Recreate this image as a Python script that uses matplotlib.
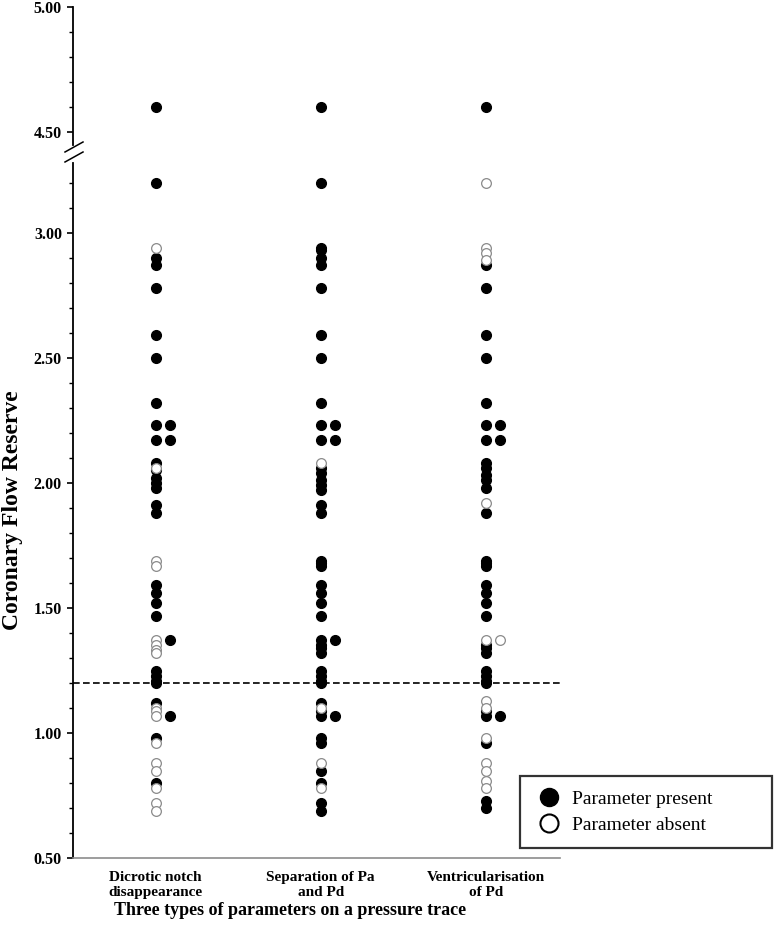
import matplotlib
matplotlib.use("Agg")
import matplotlib.pyplot as plt
from matplotlib.lines import Line2D
import numpy as np

plt.rcParams['font.family'] = ['Liberation Serif', 'DejaVu Serif']
plt.rcParams['font.weight'] = 'bold'

categories = ["Dicrotic notch\ndisappearance", "Separation of Pa\nand Pd", "Ventricularisation\nof Pd"]

# CFR values per column, 1 = parameter present, 0 = absent
dicrotic_cfr = [4.60, 3.20, 2.94, 2.90, 2.87, 2.78, 2.59, 2.50, 2.32, 2.23, 2.17, 2.08, 2.06, 2.05,
                2.02, 2.00, 1.98, 1.91, 1.88, 1.69, 1.67, 1.59, 1.56, 1.52, 1.47, 1.37, 1.35, 1.33,
                1.32, 1.25, 1.23, 1.21, 1.20, 1.12, 1.10, 1.09, 1.07, 0.98, 0.96, 0.88, 0.85, 0.80,
                0.78, 0.72, 0.69]
dicrotic_present = [1, 1, 0, 1, 1, 1, 1, 1, 1, 1, 1, 1, 0, 1,
                    1, 1, 1, 1, 1, 0, 0, 1, 1, 1, 1, 0, 0, 0,
                    0, 1, 1, 1, 1, 1, 0, 0, 0, 1, 0, 0, 0, 1,
                    0, 0, 0]

separation_cfr = [4.60, 3.20, 2.94, 2.93, 2.90, 2.87, 2.78, 2.59, 2.50, 2.32, 2.23, 2.17, 2.08, 2.06,
                  2.04, 2.01, 1.99, 1.97, 1.91, 1.88, 1.69, 1.68, 1.67, 1.59, 1.56, 1.52, 1.47, 1.37,
                  1.35, 1.34, 1.32, 1.25, 1.23, 1.21, 1.20, 1.12, 1.10, 1.09, 1.07, 0.98, 0.96, 0.88,
                  0.85, 0.80, 0.78, 0.72, 0.69]
separation_present = [1, 1, 1, 1, 1, 1, 1, 1, 1, 1, 1, 1, 0, 1,
                      1, 1, 1, 1, 1, 1, 1, 1, 1, 1, 1, 1, 1, 1,
                      1, 1, 1, 1, 1, 1, 1, 1, 0, 1, 1, 1, 1, 0,
                      1, 1, 0, 1, 1]

ventric_cfr = [4.60, 3.20, 2.94, 2.92, 2.89, 2.87, 2.78, 2.59, 2.50, 2.32, 2.23, 2.17, 2.08, 2.06,
               2.03, 2.01, 1.98, 1.92, 1.88, 1.69, 1.68, 1.67, 1.59, 1.56, 1.52, 1.47, 1.37, 1.35,
               1.34, 1.32, 1.25, 1.23, 1.21, 1.20, 1.13, 1.10, 1.09, 1.07, 0.98, 0.96, 0.88, 0.85,
               0.81, 0.78, 0.73, 0.70]
ventric_present = [1, 0, 0, 0, 0, 1, 1, 1, 1, 1, 1, 1, 1, 1,
                   1, 1, 1, 0, 1, 1, 1, 1, 1, 1, 1, 1, 0, 1,
                   1, 1, 1, 1, 1, 1, 0, 0, 1, 1, 0, 1, 0, 0,
                   0, 0, 1, 1]

# points drawn beside each column
dicrotic_side_cfr = [2.23, 2.17, 1.37, 1.07]
dicrotic_side_present = [1, 1, 1, 1]
separation_side_cfr = [2.23, 2.17, 1.37, 1.07]
separation_side_present = [1, 1, 1, 1]
ventric_side_cfr = [2.23, 2.17, 1.37, 1.07]
ventric_side_present = [1, 1, 0, 1]

cutoff = 1.20

columns = [
    (dicrotic_cfr, dicrotic_present, dicrotic_side_cfr, dicrotic_side_present),
    (separation_cfr, separation_present, separation_side_cfr, separation_side_present),
    (ventric_cfr, ventric_present, ventric_side_cfr, ventric_side_present),
]

W, H = 774, 947
fig = plt.figure(figsize=(W / 100, H / 100), dpi=100)

left = 73 / W
width = (560 - 73) / W
ax_low = fig.add_axes([left, 1 - 858 / H, width, (858 - 163) / H])
ax_top = fig.add_axes([left, 1 - 144.5 / H, width, 137.5 / H], sharex=ax_low)

ms = 7
side_dx = 0.085
for ax in (ax_low, ax_top):
    for i, (vals, pres, svals, spres) in enumerate(columns):
        x = i + 1
        vals = np.array(vals)
        pres = np.array(pres, dtype=bool)
        svals = np.array(svals)
        spres = np.array(spres, dtype=bool)
        ax.plot(np.full(pres.sum(), x), vals[pres], 'o', color='black', ms=ms, zorder=3)
        ax.plot(np.full((~pres).sum(), x), vals[~pres], 'o', mfc='white', mec='#8a8a8a',
                mew=0.9, ms=ms, zorder=4)
        ax.plot(np.full(spres.sum(), x + side_dx), svals[spres], 'o', color='black', ms=ms, zorder=3)
        ax.plot(np.full((~spres).sum(), x + side_dx), svals[~spres], 'o', mfc='white', mec='#8a8a8a',
                mew=0.9, ms=ms, zorder=4)

ax_low.axhline(cutoff, color='black', ls=(0, (4, 2)), lw=1.2, zorder=5)

ax_low.set_xlim(0.5, 3.45)
ax_low.set_ylim(0.5, 3.28)
ax_top.set_ylim(4.45, 5.0)

ax_low.set_yticks(np.arange(0.5, 3.01, 0.5))
ax_low.set_yticks(np.arange(0.5, 3.25, 0.1), minor=True)
ax_low.set_yticklabels([f"{v:.2f}" for v in np.arange(0.5, 3.01, 0.5)])
ax_top.set_yticks([4.5, 5.0])
ax_top.set_yticks(np.arange(4.5, 5.01, 0.1), minor=True)
ax_top.set_yticklabels(["4.50", "5.00"])

for ax in (ax_low, ax_top):
    ax.spines['top'].set_visible(False)
    ax.spines['right'].set_visible(False)
    ax.spines['left'].set_linewidth(1.3)
    ax.tick_params(axis='y', which='major', length=4, width=1.2, labelsize=11.5, pad=4)
    ax.tick_params(axis='y', which='minor', length=3, width=1.0)
    for lab in ax.get_yticklabels():
        lab.set_fontweight('bold')

ax_top.spines['bottom'].set_visible(False)
ax_top.tick_params(axis='x', bottom=False, labelbottom=False)
ax_low.spines['bottom'].set_color('#8c8c8c')
ax_low.spines['bottom'].set_linewidth(1.2)

ax_low.set_xticks([1, 2, 3])
ax_low.set_xticklabels(categories, fontsize=11, fontweight='bold', linespacing=1.25)
ax_low.tick_params(axis='x', length=0, pad=9)

ax_low.set_ylabel("Coronary Flow Reserve", fontsize=17, fontweight='bold', labelpad=8)
fig.text(290 / W, 1 - 910 / H, "Three types of parameters on a pressure trace",
         ha='center', va='center', fontsize=13, fontweight='bold')

# axis break marks
for yb in (147, 157):
    fig.add_artist(Line2D([65 / W, 83 / W], [1 - (yb + 5) / H, 1 - (yb - 5) / H],
                          color='black', lw=1.1))

handles = [
    Line2D([], [], marker='o', ls='none', color='black', ms=13),
    Line2D([], [], marker='o', ls='none', mfc='white', mec='black', mew=1.5, ms=13),
]
leg = fig.legend(handles, ["Parameter present", "Parameter absent"],
                 loc='center left', bbox_to_anchor=(520 / W, 1 - 848 / H, 252 / W, 72 / H),
                 mode='expand', frameon=True, fancybox=False, edgecolor='black',
                 prop={'family': 'Liberation Serif', 'weight': 'normal', 'size': 14},
                 borderpad=0.75, handletextpad=0.4, handlelength=1.5, labelspacing=0.4,
                 borderaxespad=0)
leg.get_frame().set_linewidth(1.6)

fig.savefig("out.png", dpi=100)
